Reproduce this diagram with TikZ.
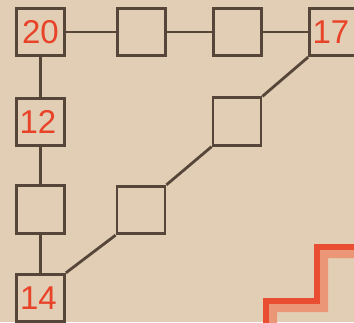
\documentclass[tikz,border=0pt]{standalone}
\usepackage{fontspec}
\setmainfont{Liberation Sans}
\definecolor{paper}{RGB}{226,206,180}
\definecolor{boxline}{RGB}{86,70,58}
\definecolor{numred}{RGB}{232,66,40}
\definecolor{bandred}{RGB}{234,78,50}
\definecolor{bandpink}{RGB}{236,150,120}
\begin{document}
\begin{tikzpicture}[x=1pt,y=1pt,
  cell/.style={draw=boxline, line width=2.8pt, minimum width=48pt, minimum height=47.5pt,
    inner sep=0pt, font=\fontsize{33}{33}\selectfont, text=numred},
  link/.style={draw=boxline, line width=2.8pt}]
\useasboundingbox (0,0) rectangle (354,322);
\fill[paper] (0,0) rectangle (354,322);
\clip (0,0) rectangle (354,322);
% staircase band
\fill[bandpink] (263,-5) -- (263,24) -- (314,24) -- (314,78) -- (360,78) -- (360,64)
  -- (328,64) -- (328,10) -- (277,10) -- (277,-5) -- cycle;
\draw[bandred, line width=6pt, line join=miter] (266,-5) -- (266,21) -- (317,21) -- (317,75) -- (360,75);
% boxes
\node[cell] (b20) at (40.5,290) {\raisebox{-2pt}{20}};
\node[cell] (t2) at (141.5,290) {};
\node[cell] (t3) at (237.5,290) {};
\node[cell] (b17) at (333.5,290) {\raisebox{-2pt}{\hspace*{-5pt}17}};
\node[cell] (b12) at (40.5,200) {\raisebox{-1pt}{\hspace*{-5pt}12}};
\node[cell] (l3) at (40.5,112.5) {};
\node[cell] (b14) at (40.5,24) {\raisebox{-3pt}{\hspace*{-4pt}14}};
\node[cell] (d1) at (237,200.5) {};
\node[cell] (d2) at (141,112) {};
% connectors
\draw[link] (b20.east) -- (t2.west);
\draw[link] (t2.east) -- (t3.west);
\draw[link] (t3.east) -- (b17.west);
\draw[link] (b20.south) -- (b12.north);
\draw[link] (b12.south) -- (l3.north);
\draw[link] (l3.south) -- (b14.north);
\draw[link] (b17.south west) -- (d1.north east);
\draw[link] (d1.south west) -- (d2.north east);
\draw[link] (d2.south west) -- (b14.north east);
\end{tikzpicture}
\end{document}
